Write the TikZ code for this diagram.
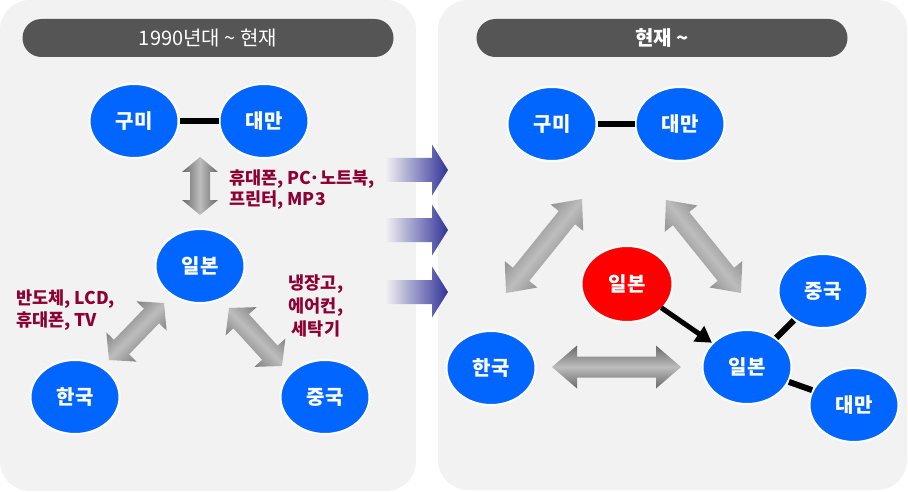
\documentclass[tikz,border=0pt]{standalone}
\usepackage{fontspec}
\setmainfont{Noto Sans CJK KR}
\usetikzlibrary{shapes.geometric,calc,arrows.meta}
\definecolor{panel}{HTML}{F2F2F2}
\definecolor{titlegray}{HTML}{555555}
\definecolor{nodeblue}{HTML}{0066FF}
\definecolor{nodered}{HTML}{FF0000}
\definecolor{maroon}{HTML}{8C0033}
\definecolor{arrowblue}{HTML}{333399}
\definecolor{arrdark}{HTML}{686868}
\definecolor{arrlight}{HTML}{BDBDBD}
\newcommand\dblarrow[6]{% #1 start #2 end #3 shading angle #4 head length #5 head half width #6 shaft half width
  \shade[left color=arrdark, right color=arrdark, middle color=arrlight, shading angle=#3]
  (#1) -- ($(#1)!#4pt!(#2)!#5pt!90:(#2)$) -- ($(#1)!#4pt!(#2)!#6pt!90:(#2)$)
  -- ($(#2)!#4pt!(#1)!#6pt!-90:(#1)$) -- ($(#2)!#4pt!(#1)!#5pt!-90:(#1)$)
  -- (#2) -- ($(#2)!#4pt!(#1)!#5pt!90:(#1)$) -- ($(#2)!#4pt!(#1)!#6pt!90:(#1)$)
  -- ($(#1)!#4pt!(#2)!#6pt!-90:(#2)$) -- ($(#1)!#4pt!(#2)!#5pt!-90:(#2)$) -- cycle;}
\newcommand\bluearrow[1]{%
  \shade[left color=panel, middle color=arrowblue!60!white, right color=arrowblue]
  (385,#1-12) -- (432,#1-12) -- (432,#1-25.5) -- (448,#1) -- (432,#1+25.5) -- (432,#1+12) -- (385,#1+12) -- cycle;}
\begin{document}
\begin{tikzpicture}[x=1pt,y=-1pt,
  country/.style={ellipse, draw=white, line width=2pt, fill=nodeblue, text=white,
    minimum width=89pt, minimum height=74pt, inner sep=0pt, font=\fontsize{20}{22}\selectfont\bfseries},
  redcountry/.style={country, fill=nodered, minimum width=91pt, minimum height=76pt},
  titlebar/.style={rectangle, rounded corners=19pt, fill=titlegray, text=white,
    minimum width=371pt, minimum height=38pt, inner sep=0pt, font=\fontsize{20}{22}\selectfont},
  goods/.style={text=maroon, inner sep=0pt, font=\fontsize{17.5}{21}\selectfont\bfseries},
  bar/.style={line width=6pt, black}]
\useasboundingbox (0,0) rectangle (908,492);
\fill[white] (0,0) rectangle (908,492);
\fill[panel, rounded corners=30pt] (0,0) rectangle (416,491);
\fill[panel, rounded corners=30pt] (438,0) rectangle (907,490);
% title bars
\node[titlebar] (t1) at (208,38) {1990년대 \textasciitilde\ 현재};
\node[titlebar, font=\fontsize{20}{22}\selectfont\bfseries] (t2) at (662,38) {현재 \textasciitilde};
% left panel
\node[country] (Lgumi) at (134,121) {구미};
\node[country] (Ltaiwan) at (264,121) {대만};
\node[country] (Ljapan) at (200,266) {일본};
\node[country] (Lkorea) at (75,397) {한국};
\node[country] (Lchina) at (325,397) {중국};
\draw[bar] (Lgumi) -- (Ltaiwan);
\coordinate (v1) at (200,157); \coordinate (v2) at (200,215);
\dblarrow{v1}{v2}{90}{15}{18}{10}
\coordinate (d1) at (109,360); \coordinate (d2) at (164,303);
\dblarrow{d1}{d2}{45}{18}{21}{10.5}
\coordinate (e1) at (229,308); \coordinate (e2) at (282,366);
\dblarrow{e1}{e2}{-45}{18}{21}{10.5}
\node[goods, anchor=west, align=left] (g1) at (229,190) {휴대폰, PC·노트북,\\프린터, MP3};
\node[goods, anchor=west, align=left, font=\fontsize{17.5}{22}\selectfont\bfseries] (g2) at (16,310) {반도체, LCD,\\휴대폰, TV};
\node[goods, align=center, font=\fontsize{17.5}{23}\selectfont\bfseries] (g3) at (316,306) {냉장고,\\에어컨,\\세탁기};
% middle arrows
\bluearrow{170}
\bluearrow{230}
\bluearrow{292}
% right panel
\node[country] (Rgumi) at (552,124) {구미};
\node[country] (Rtaiwan) at (680,124) {대만};
\draw[bar] (Rgumi) -- (Rtaiwan);
\node[redcountry] (Rjapanred) at (627,284) {일본};
\node[country] (Rkorea) at (491,368) {한국};
\node[country] (Rjapan) at (747,367) {일본};
\node[country] (Rchina) at (823,291) {중국};
\node[country] (Rtaiwan2) at (854,405) {대만};
\draw[bar] (Rjapan) -- (Rchina);
\draw[bar] (Rjapan) -- (Rtaiwan2);
\draw[line width=5pt, -{Triangle[length=16pt,width=18pt]}, shorten <=-2pt] (Rjapanred) -- (Rjapan);
\coordinate (a1) at (506,293); \coordinate (a2) at (582,199);
\dblarrow{a1}{a2}{51}{24}{21}{10.5}
\coordinate (b1) at (666,200); \coordinate (b2) at (741,293);
\dblarrow{b1}{b2}{-51}{24}{21}{10.5}
\coordinate (c1) at (552,367); \coordinate (c2) at (681,367);
\dblarrow{c1}{c2}{0}{25}{21.5}{10.5}
\end{tikzpicture}
\end{document}
